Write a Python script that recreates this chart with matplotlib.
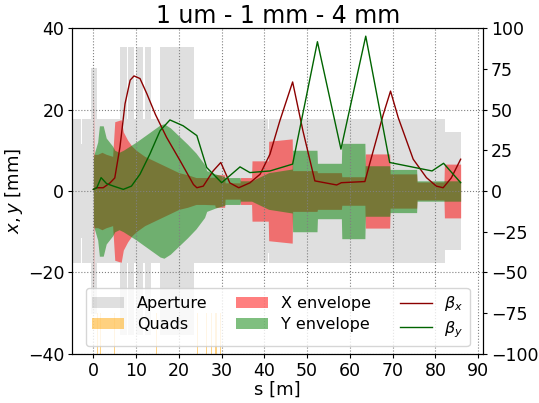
import numpy as np
import matplotlib
matplotlib.use("Agg")
import matplotlib.pyplot as plt

# ---------------- data ----------------
# aperture (step function, half-aperture in mm)
ap_s = [-5, -2.8, -2.6, -0.5, 0.8, 6.24, 7.8, 8.18, 9.5, 9.9, 11.7, 12.08,
        13.48, 15.58, 23.5, 40.8, 41.0, 82.2, 85.9]
ap_r = [17.6, 11.6, 17.6, 30.3, 17.6, 35.3, 17.6, 35.3, 17.6, 35.3, 17.6,
        35.3, 17.6, 35.3, 17.6, 15.2, 17.6, 14.4, 14.4]

# quadrupoles
quad_s = [1.0, 1.6, 4.9, 14.8, 24.3, 26.5, 27.7, 28.7, 29.8]
quad_h = [10, 10, 10, 10, 10, 10, 10, 10, 10]

# beam envelopes (half-width, mm)
env_s_x = [0, 0.15, 1, 2, 3, 4.5, 5.0, 6.5, 7, 8, 9, 10, 12, 14, 16, 18, 20,
           22, 24, 26, 28.4, 28.5, 30.7, 30.8, 34.3, 34.4, 37, 37.1, 40.9,
           41, 46.5, 46.6, 52.3, 52.4, 58, 58.1, 63.5, 63.6, 69.3, 69.4, 75.6,
           75.7, 82.0, 82.1, 85.9]
env_x = [26, 9, 9, 9.5, 9, 8.5, 17, 17.5, 14.5, 12.5, 11, 10, 8.5, 7.5, 6.5,
         5.5, 4.5, 4, 3.3, 3.3, 3.4, 4, 4, 2, 2, 3.3, 3.3, 7.4, 7.4, 12.2,
         12.8, 5, 5, 4.5, 4.5, 3.5, 3.5, 9.1, 9.1, 4.2, 4.2, 2.2, 2.2, 6.6, 6.6]

env_s_y = [0, 0.15, 1, 1.4, 2.3, 3, 4.5, 5, 6, 7, 8.5, 10, 12, 14, 15.6, 16.5,
           18, 20, 22, 24, 26, 26.5, 28.5, 30.7, 30.8, 34.3, 34.4, 37, 41,
           46.5, 46.6, 52.3, 52.4, 58, 58.1, 63.5, 63.6, 69.3, 69.4, 75.6,
           75.7, 82.0, 85.9]
env_y = [8, 9, 12, 16, 16, 13, 11, 10, 9.5, 10, 11, 12, 13.5, 15, 16.2, 16.5,
         15.5, 13.5, 11.5, 9.3, 6.5, 5, 4.2, 3.5, 3.3, 3.3, 2.5, 2.5, 4.5,
         5.4, 10, 10, 6.8, 6.8, 11.7, 11.7, 6.2, 6.2, 5.3, 5.3, 2.5, 2.5, 2.5]

# beta functions (m)
beta_s_x = [0, 0.8, 2.3, 3.9, 5.0, 6.2, 7.4, 8.6, 9.5, 10.9, 12.5, 14.5, 17.1,
            20.3, 23.4, 24.2, 25.7, 28.0, 29.8, 31.9, 34.0, 36.6, 39.0, 41.3,
            43.6, 46.6, 49.0, 51.8, 56.9, 58.0, 63.5, 64.6, 67.8, 69.5, 71.3,
            74.8, 77.9, 80.2, 81.8, 83.7, 85.9]
beta_x = [1, 2, 2, 5, 8, 26.7, 53.5, 68, 70.6, 69, 59.7, 47, 33, 18.5, 4, 2,
          3, 12.3, 17.5, 5, 2, 5, 10.3, 22.6, 43, 66.9, 37, 6.2, 3.7, 5.1,
          5.8, 16.5, 47, 61.3, 45, 19.5, 8.2, 3, 2, 8, 19.5]

beta_s_y = [0, 0.8, 1.8, 3.1, 4.7, 7.0, 8.9, 10.9, 13.2, 15.6, 17.9, 21.0,
            24.2, 26.5, 30.0, 34.3, 36.6, 41.3, 46.6, 52.4, 57.9, 63.7, 69.3,
            79.2, 81.9, 85.9]
beta_y = [1, 2, 8.2, 4.5, 3, 1, 3, 10.3, 22.6, 37, 43.6, 40, 34, 14.4, 5.1,
          14.8, 11.3, 12.3, 16.5, 91.6, 25.7, 95, 17.5, 12.3, 17, 5.1]

title = "1 um - 1 mm - 4 mm"

# ---------------- plot ----------------
fig = plt.figure(figsize=(5.39, 4.03), dpi=100)
ax = fig.add_axes([0.1336, 0.1216, 0.7631, 0.8089])
ax2 = ax.twinx()

ap_r_arr = np.array(ap_r)
h_ap = ax.fill_between(ap_s, -ap_r_arr, ap_r_arr, step='post', color='gray',
                       alpha=0.25, lw=0, label='Aperture')
h_q = ax.bar(quad_s, quad_h, bottom=-40, width=0.3, color='orange',
             alpha=0.5, label='Quads')
ex = np.array(env_x)
ey = np.array(env_y)
h_x = ax.fill_between(env_s_x, -ex, ex, color='red', alpha=0.5, lw=0,
                      label='X envelope')
h_y = ax.fill_between(env_s_y, -ey, ey, color='green', alpha=0.5, lw=0,
                      label='Y envelope')

l_bx, = ax2.plot(beta_s_x, beta_x, color='darkred', lw=1, label=r'$\beta_x$')
l_by, = ax2.plot(beta_s_y, beta_y, color='darkgreen', lw=1, label=r'$\beta_y$')

ax.set_xlim(-5, 91.2)
ax.set_ylim(-40, 40)
ax2.set_ylim(-100, 100)
ax.set_xticks(np.arange(0, 91, 10))
ax.set_yticks([-40, -20, 0, 20, 40])
ax2.set_yticks(np.arange(-100, 101, 25))
ax.grid(True, ls=':', color='gray', lw=0.8)

ax.tick_params(labelsize=12.5, length=3, pad=2.5)
ax2.tick_params(labelsize=12.5, length=3, pad=2.5)
ax.set_xlabel('s [m]', fontsize=13, labelpad=1)
ax.set_ylabel(r'$x, y$ [mm]', fontsize=13, labelpad=2)
ax.set_title(title, fontsize=17, pad=3)

handles = [h_ap, h_q, h_x, h_y, l_bx, l_by]
labels = [h.get_label() for h in handles]
ax2.legend(handles, labels, loc='lower center', ncol=3, fontsize=11.5,
           borderaxespad=0.5, labelspacing=0.35, columnspacing=1.8)

fig.savefig('out.png', dpi=100)
